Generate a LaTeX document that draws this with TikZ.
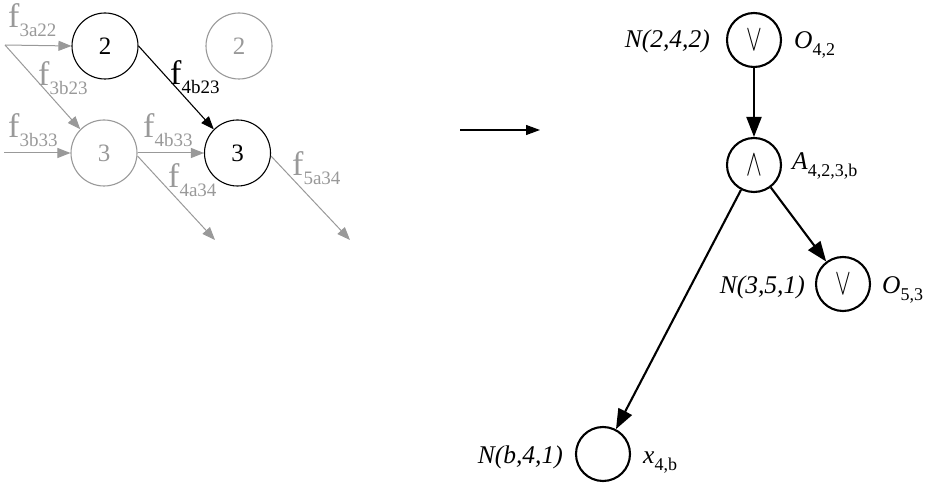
\documentclass[tikz,border=0pt]{standalone}
\usepackage{fontspec}
\setmainfont{Liberation Serif}
\usetikzlibrary{arrows.meta}
\definecolor{lg}{gray}{0.6}
\newcommand\lsub[1]{\raisebox{-9pt}{\fontsize{19}{19}\selectfont #1}}
\newcommand\rsub[1]{\raisebox{-7pt}{\fontsize{18}{18}\selectfont #1}}
\newcommand\opsym[1]{\scalebox{0.95}[1.5]{$#1$}}
\begin{document}
\begin{tikzpicture}[x=1pt,y=-1pt,
  lcirc/.style={circle,draw,line width=1.1pt,minimum size=66pt,inner sep=0pt,font=\fontsize{25}{25}\selectfont},
  gcirc/.style={lcirc,draw=lg,text=lg},
  rcirc/.style={circle,draw,line width=2.1pt,minimum size=54pt,inner sep=0pt,font=\fontsize{24}{24}\selectfont},
  garr/.style={draw=lg,line width=1pt,-{Triangle[length=13pt,width=10pt]},lg},
  barr/.style={draw=black,line width=1.1pt,-{Triangle[length=13pt,width=10pt]}},
  rarr/.style={draw=black,line width=2.1pt,-{Triangle[length=20pt,width=15pt]}},
  flab/.style={inner sep=0pt,anchor=base west,font=\fontsize{34}{34}\selectfont},
  glab/.style={flab,text=lg},
  rlab/.style={inner sep=0pt,font=\fontsize{25.5}{25.5}\selectfont},
]
\useasboundingbox (0,0) rectangle (930,484);
% left part
\node[lcirc] (c2) at (105,46) {2};
\node[gcirc] (g2) at (239,46) {2};
\node[gcirc] (g3) at (104,153) {3};
\node[lcirc] (c3) at (237.5,153) {3};
\coordinate (s1) at (5,45);
\coordinate (s2) at (4,153);
\coordinate (e1) at (215,240);
\coordinate (e2) at (350,240);
\draw[garr] (s1) -- (c2.west);
\draw[garr] (s1) -- (g3.north west);
\draw[garr] (s2) -- (g3.west);
\draw[garr] (g3.east) -- (c3.west);
\draw[garr] (g3.-5) -- (e1);
\draw[garr] (c3.-5) -- (e2);
\draw[barr] (c2.east) -- (c3.north west);
\node[glab] (l1) at (8,28) {f\lsub{3a22}};
\node[glab] (l2) at (38,86) {f\lsub{3b23}};
\node[glab] (l3) at (8,138) {f\lsub{3b33}};
\node[glab] (l4) at (143,138) {f\lsub{4b33}};
\node[glab] (l5) at (168,188) {f\lsub{4a34}};
\node[flab] (l6) at (170,85) {f\lsub{4b23}};
\node[glab] (l7) at (292,176) {f\lsub{5a34}};
% middle arrow
\coordinate (m1) at (460,130);
\coordinate (m2) at (540,130);
\draw[line width=1.1pt,-{Triangle[length=14pt,width=10pt]}] (m1) -- (m2);
% right part
\node[rcirc] (o42) at (754,40) {\opsym{\vee}};
\node[rcirc] (a42) at (754,165) {\opsym{\wedge}};
\node[rcirc] (o53) at (843,284) {\opsym{\vee}};
\node[rcirc] (x4b) at (603,454) {};
\draw[rarr] (o42) -- (a42);
\draw[rarr] (a42) -- (o53);
\draw[rarr] (a42) -- (x4b);
\node[rlab,anchor=base east] (n1) at (710,48) {\textit{N(2,4,2)}};
\node[rlab,anchor=base west] (t1) at (794,49) {\textit{O}\rsub{4,2}};
\node[rlab,anchor=base west] (t2) at (792,170) {\textit{A}\rsub{4,2,3,b}};
\node[rlab,anchor=base east] (n2) at (805,293) {\textit{N(3,5,1)}};
\node[rlab,anchor=base west] (t3) at (882,293) {\textit{O}\rsub{5,3}};
\node[rlab,anchor=base east] (n3) at (563,463) {\textit{N(b,4,1)}};
\node[rlab,anchor=base west] (t4) at (643,463) {\textit{x}\rsub{4,b}};
\end{tikzpicture}
\end{document}
